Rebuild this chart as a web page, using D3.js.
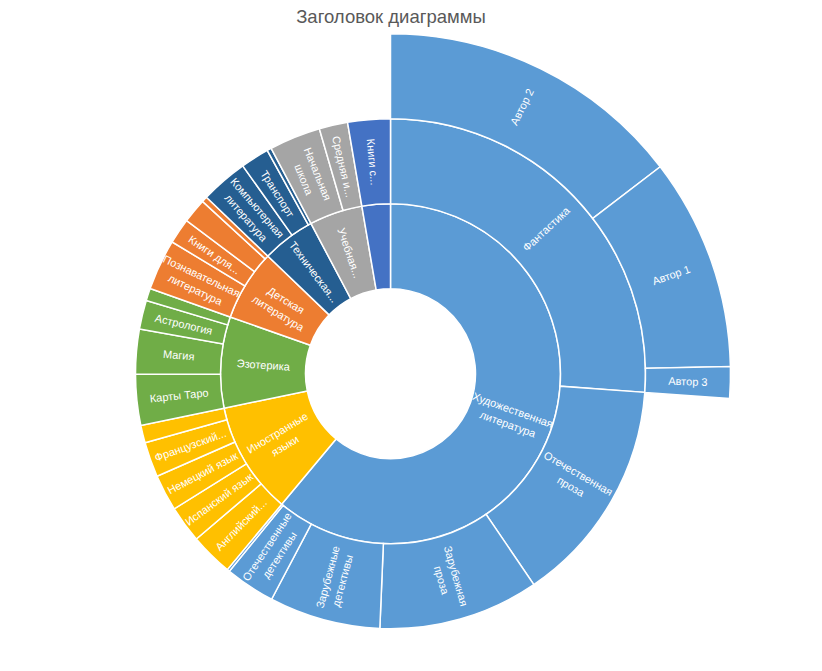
<!DOCTYPE html>
<html>
<head>
<meta charset="utf-8">
<script src="https://cdn.jsdelivr.net/npm/d3@7"></script>
<style>
  html, body { margin: 0; padding: 0; background: #fff; }
  svg { display: block; font-family: 'Liberation Sans', Arial, sans-serif; }
</style>
</head>
<body>
<div id="chart"></div>
<script>
// level 1 categories (clockwise from 12 o'clock)
const categories = ['Художественная\nлитература', 'Иностранные\nязыки', 'Эзотерика',
  'Детская\nлитература', 'Техническая...', 'Учебная...', 'Книги с...'];

// level 2 / 3
const fiction = ['Фантастика', 'Отечественная\nпроза', 'Зарубежная\nпроза',
  'Зарубежные\nдетективы', 'Отечественные\nдетективы', 'Поэзия'];
const fictionValues = [null, 51.6, 36.6, 25.4, 11.4, 0.6]; // Фантастика = сумма авторов
const sciFi = ['Автор 2', 'Автор 1', 'Автор 3'];
const sciFiValues = [52.5, 36.3, 5.4];

const languages = ['Английский...', 'Испанский язык', 'Немецкий язык', 'Французский...', 'Итальянский язык'];
const languageValues = [9.8, 8.4, 8.3, 8.0, 4.0];

const esoteric = ['Карты Таро', 'Магия', 'Астрология', 'Нумерология'];
const esotericValues = [11.6, 10.2, 6.6, 2.8];

const kids = ['Познавательная\nлитература', 'Книги для...', 'Сказки', 'Раскраски'];
const kidsValues = [11.6, 5.8, 5.6, 1.3];

const technical = ['Компьютерная\nлитература', 'Транспорт', 'Строительство'];
const technicalValues = [10.8, 6.5, 1.0];

const study = ['Начальная\nшкола', 'Средняя и...'];
const studyValues = [11.7, 6.5];

const other = ['Книги с...'];
const otherValues = [9.7];

const palette = ['#5B9BD5', '#FFC000', '#70AD47', '#ED7D31', '#255E91', '#A5A5A5', '#4472C4'];

// build the tree
const leaves = (names, values) => names.map((n, i) => ({name: n, value: values[i]}));
const fictionNodes = fiction.map((n, i) => i === 0
  ? {name: n, children: leaves(sciFi, sciFiValues)}
  : {name: n, value: fictionValues[i]});
const level2 = [
  fictionNodes,
  leaves(languages, languageValues),
  leaves(esoteric, esotericValues),
  leaves(kids, kidsValues),
  leaves(technical, technicalValues),
  leaves(study, studyValues),
  leaves(other, otherValues)
];
const tree = {name: 'root', children: categories.map((c, i) => ({name: c, children: level2[i]}))};

// set the dimensions
let width = 822;
let height = 671;
let cx = 390.5;
let cy = 373.7;

let root = d3.hierarchy(tree).sum(d => d.children ? 0 : d.value);
d3.partition().size([2 * Math.PI, root.height + 1])(root);

let radius = d3.scaleLinear().domain([1, 4]).range([85, 340]);

let arc = d3.arc()
  .startAngle(d => d.x0)
  .endAngle(d => d.x1)
  .innerRadius(d => radius(d.y0))
  .outerRadius(d => radius(d.y1));

let topIndex = d => {
  let n = d;
  while (n.depth > 1) n = n.parent;
  return categories.indexOf(n.data.name);
};

let svg = d3.select('#chart')
  .append('svg')
  .attr('width', width)
  .attr('height', height);

// title
svg.append('text')
  .attr('x', 391)
  .attr('y', 23)
  .attr('text-anchor', 'middle')
  .attr('font-size', 18.5)
  .attr('fill', '#595959')
  .text('Заголовок диаграммы');

let g = svg.append('g')
  .attr('transform', 'translate(' + cx + ',' + cy + ')');

let nodes = root.descendants().filter(d => d.depth > 0);

g.selectAll('path')
  .data(nodes)
  .join('path')
  .attr('d', arc)
  .attr('fill', d => palette[topIndex(d)])
  .attr('stroke', '#fff')
  .attr('stroke-width', 1.5);

// labels: only where the inner arc is wide enough
let labelled = nodes.filter(d => radius(d.y0) * (d.x1 - d.x0) >= 17);

let labels = g.selectAll('text.lbl')
  .data(labelled)
  .join('text')
  .attr('class', 'lbl')
  .attr('fill', '#fff')
  .attr('font-size', 11)
  .attr('text-anchor', 'middle')
  .attr('transform', d => {
    let a = (d.x0 + d.x1) / 2;
    let r = (radius(d.y0) + radius(d.y1)) / 2;
    let deg = a * 180 / Math.PI;
    let rot = deg < 180 ? deg - 90 : deg - 270;
    return 'translate(' + (r * Math.sin(a)) + ',' + (-r * Math.cos(a)) + ') rotate(' + rot + ')';
  });

labels.each(function(d) {
  let lines = d.data.name.split('\n');
  let lh = 15;
  lines.forEach((line, i) => {
    d3.select(this).append('tspan')
      .attr('x', 0)
      .attr('y', (i - (lines.length - 1) / 2) * lh)
      .attr('dy', '0.35em')
      .text(line);
  });
});
</script>
</body>
</html>
